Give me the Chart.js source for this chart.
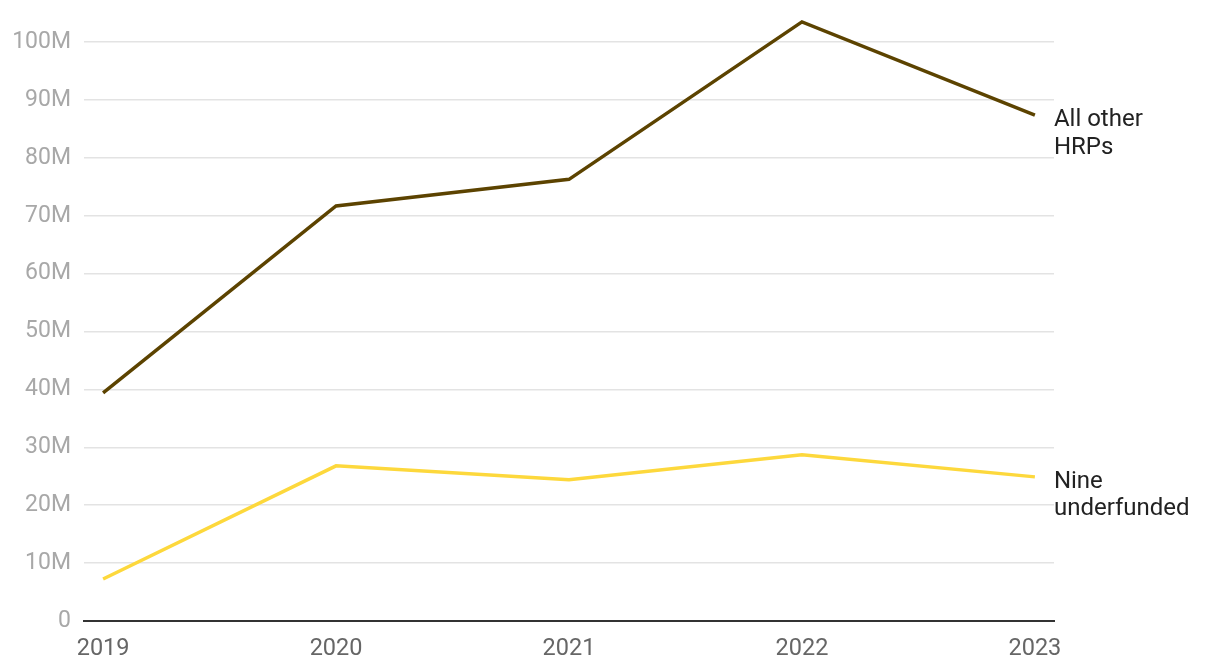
<!DOCTYPE html>
<html>
<head>
<meta charset="utf-8">
<script src="https://cdn.jsdelivr.net/npm/chart.js@4/dist/chart.umd.min.js"></script>
<style>
html,body{margin:0;padding:0;background:#fff;}
#wrap{width:1220px;height:672px;position:relative;}
</style>
</head>
<body>
<div id="wrap"><canvas id="c" width="1220" height="672"></canvas></div>
<script>
const years = [2019, 2020, 2021, 2022, 2023];
const allOtherHRPs = [39.4, 71.7, 76.3, 103.5, 87.4];
const nineUnderfunded = [7.25, 26.8, 24.4, 28.7, 24.9];
const yTicks = [0, 10, 20, 30, 40, 50, 60, 70, 80, 90, 100];
const seriesLabels = [["All other", "HRPs"], ["Nine", "underfunded"]];
const colors = ["#5c4300", "#fdd83c"];

const endLabels = {
  id: 'endLabels',
  afterDatasetsDraw(chart) {
    const ctx = chart.ctx;
    ctx.save();
    ctx.font = '24px Roboto';
    ctx.fillStyle = '#222';
    ctx.textBaseline = 'middle';
    ctx.textAlign = 'left';
    chart.data.datasets.forEach((ds, i) => {
      const meta = chart.getDatasetMeta(i);
      const pt = meta.data[meta.data.length - 1];
      const lines = seriesLabels[i];
      lines.forEach((t, j) => {
        ctx.fillText(t, pt.x + 19, pt.y + 5 + j * 27.5);
      });
    });
    ctx.restore();
  }
};

new Chart(document.getElementById('c'), {
  type: 'line',
  data: {
    datasets: [
      { data: years.map((y, i) => ({x: y, y: allOtherHRPs[i]})), borderColor: colors[0], borderWidth: 3.5, pointRadius: 0, tension: 0, fill: false },
      { data: years.map((y, i) => ({x: y, y: nineUnderfunded[i]})), borderColor: colors[1], borderWidth: 3.5, pointRadius: 0, tension: 0, fill: false }
    ]
  },
  options: {
    responsive: false,
    animation: false,
    layout: { padding: { top: 19, right: 166, left: 0, bottom: 0 } },
    plugins: { legend: { display: false }, tooltip: { enabled: false } },
    scales: {
      x: {
        type: 'linear',
        min: 2018.918,
        max: 2023.082,
        afterBuildTicks: (s) => { s.ticks = years.map(v => ({value: v})); },
        afterFit: (s) => { s.height = 51; s.paddingLeft = 0; s.paddingRight = 0; },
        grid: { display: false, drawTicks: false },
        border: { display: true, color: '#333', width: 2 },
        ticks: { color: '#666', font: { family: 'Roboto', size: 23.5 }, padding: 14, maxRotation: 0, autoSkip: false, callback: (v) => String(v) }
      },
      y: {
        min: 0,
        max: 104,
        afterBuildTicks: (s) => { s.ticks = yTicks.map(v => ({value: v})); },
        afterFit: (s) => { s.width = 84; s.paddingTop = 0; s.paddingBottom = 0; },
        grid: { color: '#e3e3e3', lineWidth: 1.5, drawTicks: false },
        border: { display: false },
        ticks: { color: '#a8a8a8', font: { family: 'Roboto', size: 23 }, padding: 13, callback: (v) => v === 0 ? '0' : v + 'M' }
      }
    }
  },
  plugins: [endLabels]
});
</script>
</body>
</html>
